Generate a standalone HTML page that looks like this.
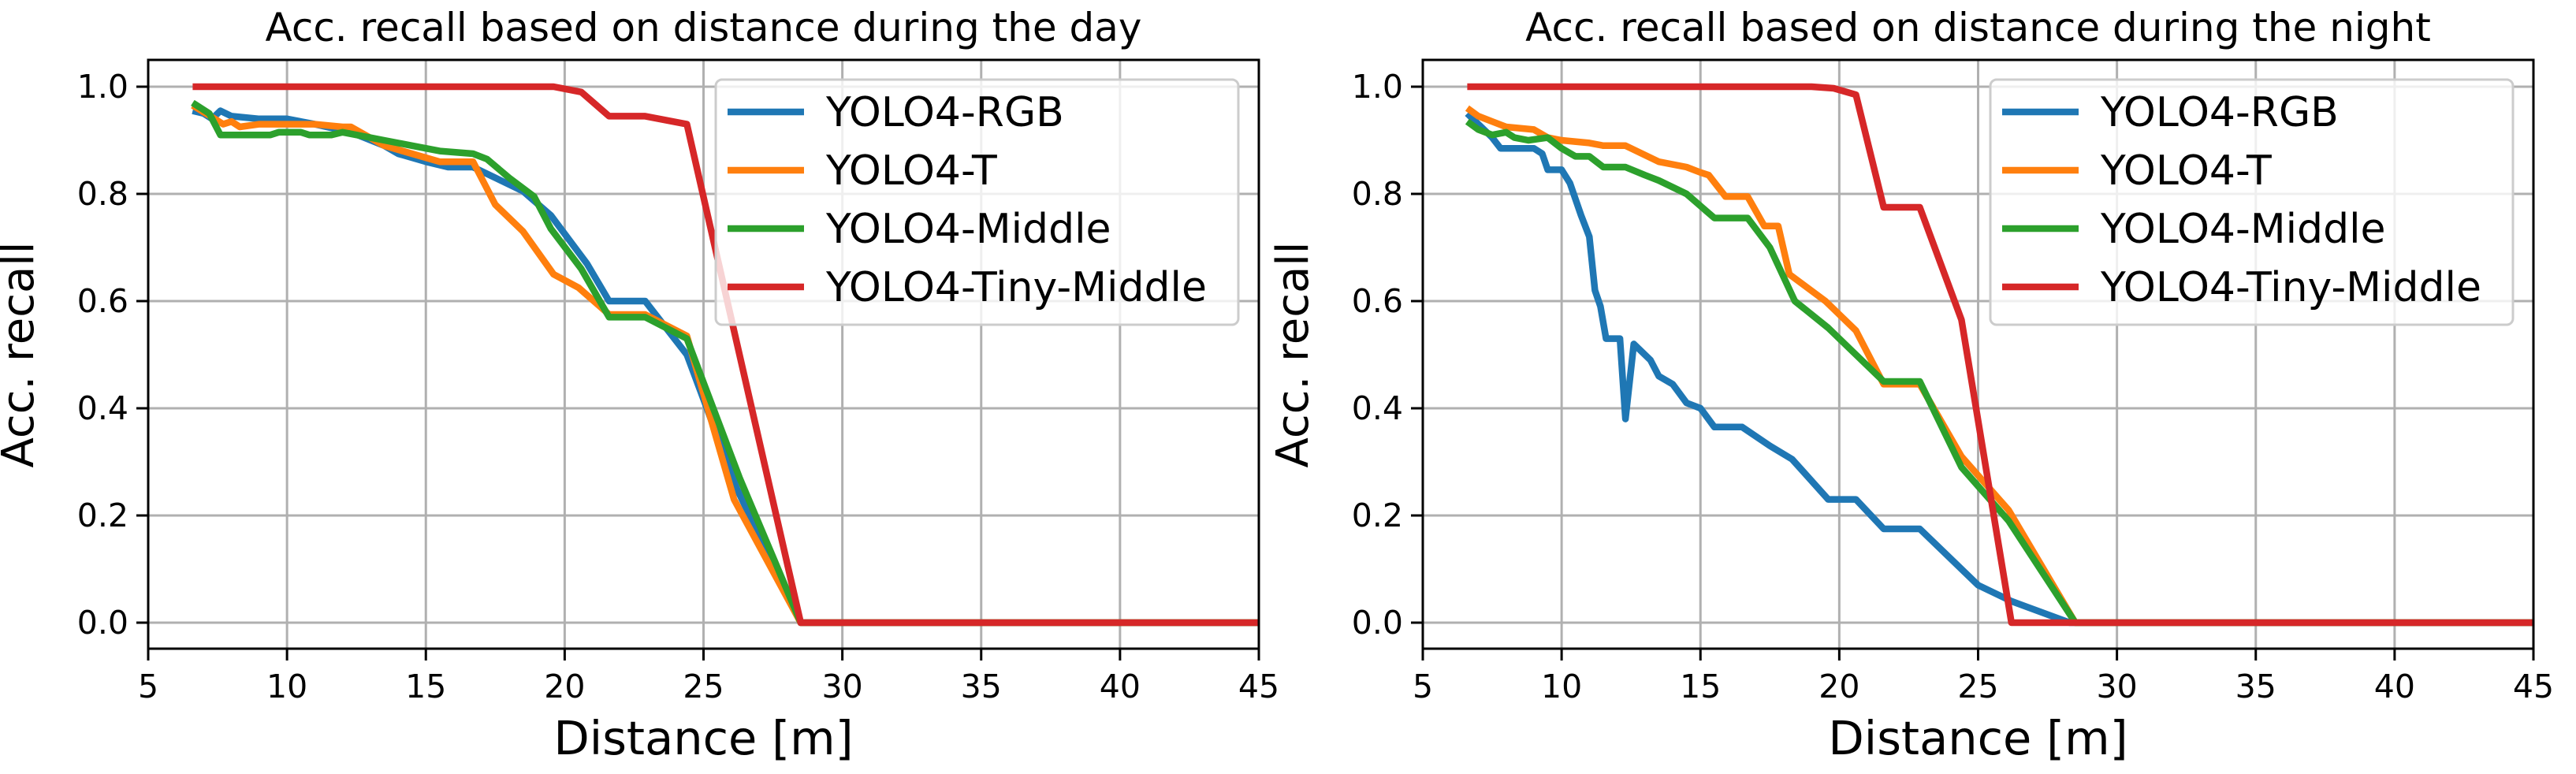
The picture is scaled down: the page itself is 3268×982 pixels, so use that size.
<!DOCTYPE html>
<html><head><meta charset="utf-8"><style>
html,body{margin:0;padding:0;background:#fff;}
svg{display:block;font-family:"DejaVu Sans","Liberation Sans",sans-serif;}
</style></head><body>
<svg id="chart" width="3268" height="982" viewBox="0 0 3268 982" xmlns="http://www.w3.org/2000/svg"></svg>
<script>
const xTicks=[5,10,15,20,25,30,35,40,45];
const yTicks=[0.0,0.2,0.4,0.6,0.8,1.0];
const seriesNames=["YOLO4-RGB","YOLO4-T","YOLO4-Middle","YOLO4-Tiny-Middle"];
const seriesColors=["#1f77b4","#ff7f0e","#2ca02c","#d62728"];
const titles=["Acc. recall based on distance during the day","Acc. recall based on distance during the night"];
// day
const dayRgbX=[6.6,7,7.3,7.6,8,9,10,11,12.3,13.5,14,15,15.8,16.7,17.5,18.5,19.5,20.8,21.6,22.9,24.4,26.2,28.5,45];
const dayRgbY=[0.955,0.95,0.94,0.955,0.945,0.94,0.94,0.93,0.915,0.89,0.875,0.86,0.85,0.85,0.83,0.805,0.76,0.67,0.6,0.6,0.5,0.25,0,0];
const dayTX=[6.6,7.4,7.7,8,8.3,9,11,12,12.3,13.5,14.5,15.5,16.7,17.5,18.5,19.6,20.5,21.6,22.9,24.4,26.1,28.5,45];
const dayTY=[0.965,0.94,0.93,0.935,0.925,0.93,0.93,0.925,0.925,0.89,0.875,0.86,0.86,0.78,0.73,0.65,0.625,0.575,0.575,0.535,0.23,0,0];
const dayMidX=[6.6,7.2,7.6,9.4,9.7,10.5,10.8,11.6,12,12.5,13.5,14.5,15.5,16.7,17.2,18,18.9,19.5,20.6,21.6,22.9,24.4,26.3,28.5,45];
const dayMidY=[0.97,0.95,0.91,0.91,0.915,0.915,0.91,0.91,0.915,0.91,0.9,0.89,0.88,0.875,0.865,0.83,0.795,0.735,0.66,0.57,0.57,0.53,0.27,0,0];
const dayTinyX=[6.6,19.6,20.6,21.6,22.9,24.4,28.5,45];
const dayTinyY=[1,1,0.99,0.945,0.945,0.93,0,0];
// night
const nightRgbX=[6.6,7,7.5,7.8,9,9.3,9.5,10,10.3,10.7,11,11.2,11.4,11.6,12.1,12.3,12.6,13.2,13.5,14,14.5,15,15.5,16.5,17.5,18.3,19.6,20.6,21.6,22.9,24,25,26.2,28.3,45];
const nightRgbY=[0.95,0.93,0.905,0.885,0.885,0.875,0.845,0.845,0.82,0.76,0.72,0.62,0.59,0.53,0.53,0.38,0.52,0.49,0.46,0.445,0.41,0.4,0.365,0.365,0.33,0.305,0.23,0.23,0.175,0.175,0.12,0.07,0.04,0,0];
const nightTX=[6.6,7,7.5,8,9,9.5,10,11,11.5,12.3,13.5,14.5,15,15.3,15.9,16.7,17.3,17.8,18.2,19.5,20,20.6,21.6,22.9,24.4,26.1,28.5,45];
const nightTY=[0.96,0.945,0.935,0.925,0.92,0.905,0.9,0.895,0.89,0.89,0.86,0.85,0.84,0.835,0.795,0.795,0.74,0.74,0.65,0.6,0.575,0.545,0.445,0.445,0.31,0.21,0,0];
const nightMidX=[6.6,7,7.5,8,8.3,8.8,9.5,10,10.5,11,11.5,12.3,13,13.5,14.5,15.5,16.7,17.5,18.4,19.6,20.6,21.6,22.9,24.4,26.1,28.5,45];
const nightMidY=[0.935,0.92,0.91,0.915,0.905,0.9,0.905,0.885,0.87,0.87,0.85,0.85,0.835,0.825,0.8,0.755,0.755,0.7,0.6,0.55,0.5,0.45,0.45,0.29,0.19,0,0];
const nightTinyX=[6.6,19,19.8,20.6,21.6,22.9,24.4,26.2,45];
const nightTinyY=[1,1,0.997,0.985,0.775,0.775,0.565,0,0];

const panels=[
 {left:188,xs:[dayRgbX,dayTX,dayMidX,dayTinyX],ys:[dayRgbY,dayTY,dayMidY,dayTinyY],name:"day-panel"},
 {left:1805,xs:[nightRgbX,nightTX,nightMidX,nightTinyX],ys:[nightRgbY,nightTY,nightMidY,nightTinyY],name:"night-panel"}
];
const W=1409, TOP=76, BOT=823;
const svg=document.getElementById('chart');
const NS="http://www.w3.org/2000/svg";
function mk(tag,attrs,parent){const e=document.createElementNS(NS,tag);for(const k in attrs)e.setAttribute(k,attrs[k]);parent.appendChild(e);return e;}
panels.forEach((p,pi)=>{
  const g=mk('g',{},svg);
  
  
  const sx=v=>p.left+(v-5)/40*W;
  const sy=v=>790-v*680;
  xTicks.forEach(t=>{
    const l=mk('line',{x1:sx(t),x2:sx(t),y1:TOP,y2:BOT,stroke:'#b0b0b0','stroke-width':3},g);
    
    
    mk('line',{x1:sx(t),x2:sx(t),y1:BOT,y2:BOT+15,stroke:'#000','stroke-width':3},g);
    const tx=mk('text',{x:sx(t),y:885,'font-size':41,'text-anchor':'middle',fill:'#000'},g);
    tx.textContent=t;
    
    
  });
  yTicks.forEach(t=>{
    const l=mk('line',{x1:p.left,x2:p.left+W,y1:sy(t),y2:sy(t),stroke:'#b0b0b0','stroke-width':3},g);
    
    
    mk('line',{x1:p.left-15,x2:p.left,y1:sy(t),y2:sy(t),stroke:'#000','stroke-width':3},g);
    const tx=mk('text',{x:p.left-25,y:sy(t)+14,'font-size':41,'text-anchor':'end',fill:'#000'},g);
    tx.textContent=t.toFixed(1);
    
    
  });
  p.xs.forEach((xa,si)=>{
    const pts=xa.map((x,i)=>sx(x).toFixed(1)+','+sy(p.ys[si][i]).toFixed(1)).join(' ');
    const pl=mk('polyline',{points:pts,fill:'none',stroke:seriesColors[si],'stroke-width':8.5,'stroke-linejoin':'round','stroke-linecap':'butt'},g);
    
    
  });
  const fr=mk('rect',{x:p.left,y:TOP,width:W,height:BOT-TOP,fill:'none',stroke:'#000','stroke-width':3},g);
  
  
  const lg=mk('g',{},g);
  
  
  const lx=p.left+720;
  mk('rect',{x:lx,y:101,width:663,height:311,rx:8,fill:'#fff','fill-opacity':0.8,stroke:'#cccccc','stroke-width':3},lg);
  seriesNames.forEach((n,i)=>{
    const yy=142+i*74;
    const e=mk('g',{},lg);
    
    
    mk('line',{x1:lx+15,x2:lx+112,y1:yy,y2:yy,stroke:seriesColors[i],'stroke-width':8.5},e);
    const t=mk('text',{x:lx+140,y:yy+18,'font-size':52,fill:'#000'},e);
    t.textContent=n;
  });
  const ti=mk('text',{x:p.left+W/2,y:52,'font-size':50,'text-anchor':'middle',fill:'#000'},g);
  ti.textContent=titles[pi];
  
  
  const xl=mk('text',{x:p.left+W/2,y:957,'font-size':59,'text-anchor':'middle',fill:'#000'},g);
  xl.textContent='Distance [m]';
  
  
  const yx=p.left-146;
  const yl=mk('text',{x:yx,y:450,'font-size':56,'text-anchor':'middle',fill:'#000',transform:`rotate(-90 ${yx} 450)`},g);
  yl.textContent='Acc. recall';
  
  
});
</script>
</body></html>
